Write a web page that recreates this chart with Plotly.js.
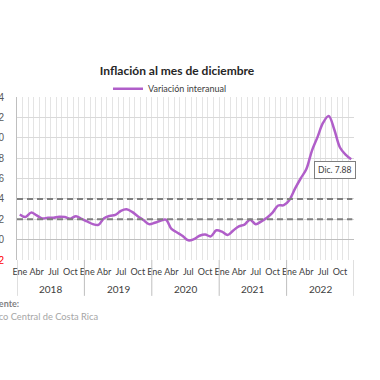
<!DOCTYPE html>
<html>
<head>
<meta charset="utf-8">
<script src="https://cdn.plot.ly/plotly-3.0.1.min.js"></script>
<style>html,body{margin:0;padding:0;background:#fff;}#chart{width:380px;height:380px;}</style>
</head>
<body>
<div id="chart"></div>
<script>
// ---- Data ----
const years = ['2018', '2019', '2020', '2021', '2022'];
const monthTickLabels = ['Ene', 'Abr', 'Jul', 'Oct'];
const v2018 = [2.47, 2.22, 2.65, 2.38, 2.08, 2.15, 2.14, 2.25, 2.22, 2.06, 2.30, 2.03];
const v2019 = [1.78, 1.52, 1.45, 2.10, 2.33, 2.43, 2.82, 2.97, 2.72, 2.30, 1.92, 1.52];
const v2020 = [1.65, 1.85, 1.96, 1.05, 0.70, 0.35, -0.07, 0.05, 0.38, 0.50, 0.32, 0.92];
const v2021 = [0.78, 0.45, 0.90, 1.30, 1.48, 1.96, 1.52, 1.80, 2.15, 2.65, 3.35, 3.38];
const v2022 = [3.90, 5.00, 6.00, 6.90, 8.71, 10.06, 11.48, 12.13, 10.78, 9.04, 8.34, 7.88];
const metaInferior = 2;
const metaSuperior = 4;
const seriesName = 'Variación interanual';
const yTicks = [-2, 0, 2, 4, 6, 8, 10, 12, 14];

const values = [].concat(v2018, v2019, v2020, v2021, v2022);
const xIdx = values.map((_, i) => i);

const tickvals = [], ticktext = [];
years.forEach((y, yi) => {
  monthTickLabels.forEach((m, mi) => { tickvals.push(yi * 12 + mi * 3); ticktext.push(m); });
});

const yTickText = yTicks.map(v => v < 0 ? '<span style="color:#ff0000">' + v + '</span>' : String(v));

const FONT = 'Lato, "Open Sans", sans-serif';

const trace = {
  x: xIdx, y: values, type: 'scatter', mode: 'lines', name: seriesName,
  line: {color: '#b05ec9', width: 2.5, shape: 'spline', smoothing: 1},
  hoverinfo: 'skip'
};

const shapes = [];
[metaInferior, metaSuperior].forEach(v => {
  shapes.push({type: 'line', xref: 'paper', yref: 'y', x0: 0, x1: 0.995, y0: v, y1: v,
    line: {color: '#7f7f7f', width: 2, dash: '6px,4px'}});
});
for (let k = 0; k <= years.length; k++) {
  shapes.push({type: 'line', xref: 'x', yref: 'paper', x0: k * 12 - 0.5, x1: k * 12 - 0.5, y0: 0, y1: -0.22,
    line: {color: '#bfbfbf', width: 1}});
}

const annotations = years.map((y, yi) => ({
  x: yi * 12 + 5.5, y: -0.178, xref: 'x', yref: 'paper', text: y, showarrow: false,
  font: {family: FONT, size: 10, color: '#404040'}, yanchor: 'middle'
}));
annotations.push({
  x: values.length - 1, y: values[values.length - 1], xref: 'x', yref: 'y',
  text: 'Dic. ' + values[values.length - 1].toFixed(2), showarrow: false,
  xshift: -16, yshift: -11, bgcolor: '#ffffff', bordercolor: '#7f7f7f', borderwidth: 1, borderpad: 3,
  font: {family: FONT, size: 8.5, color: '#404040'}
});
annotations.push({
  x: 0.011, y: -0.265, xref: 'paper', yref: 'paper', xanchor: 'right', yanchor: 'middle',
  text: '<b>Fuente:</b>', showarrow: false,
  font: {family: FONT, size: 9, color: '#7f7f7f'}
});
annotations.push({
  x: 0.246, y: -0.345, xref: 'paper', yref: 'paper', xanchor: 'right', yanchor: 'middle',
  text: 'Banco Central de Costa Rica', showarrow: false,
  font: {family: FONT, size: 9.3, color: '#a6a6a6'}
});

const layout = {
  width: 380, height: 380,
  margin: {l: 17, r: 26, t: 97, b: 120},
  paper_bgcolor: '#ffffff', plot_bgcolor: '#ffffff',
  title: {text: '<b>Inflación al mes de diciembre</b>', x: 0.466, xanchor: 'center', y: 0.814, yanchor: 'middle',
    font: {family: FONT, size: 12, color: '#262626'}},
  showlegend: true,
  legend: {orientation: 'h', x: 0.27, xanchor: 'left', y: 1.05, yanchor: 'middle',
    font: {family: FONT, size: 9, color: '#404040'}, bgcolor: 'rgba(0,0,0,0)'},
  xaxis: {
    range: [-0.5, values.length - 0.5], tickmode: 'array', tickvals: tickvals, ticktext: ticktext,
    tickangle: 0,
    showgrid: false, zeroline: false, showline: false, ticks: '', ticklabelstandoff: 5,
    tickfont: {family: FONT, size: 9, color: '#404040'},
    minor: {tick0: -0.5, dtick: 1, showgrid: true, gridcolor: '#e4e4e4', gridwidth: 1, ticks: ''}
  },
  yaxis: {
    range: [-2, 14], tickmode: 'array', tickvals: yTicks, ticktext: yTickText,
    showgrid: true, gridcolor: '#d9d9d9', gridwidth: 1,
    zeroline: true, zerolinecolor: '#bfbfbf', zerolinewidth: 1.2,
    showline: true, linecolor: '#bfbfbf', linewidth: 1, ticks: '', ticklabelstandoff: 10,
    tickfont: {family: '"Liberation Sans", Arial, sans-serif', size: 10, color: '#595959'}
  },
  shapes: shapes,
  annotations: annotations
};

Plotly.newPlot('chart', [trace], layout, {displayModeBar: false, staticPlot: true});
</script>
</body>
</html>
